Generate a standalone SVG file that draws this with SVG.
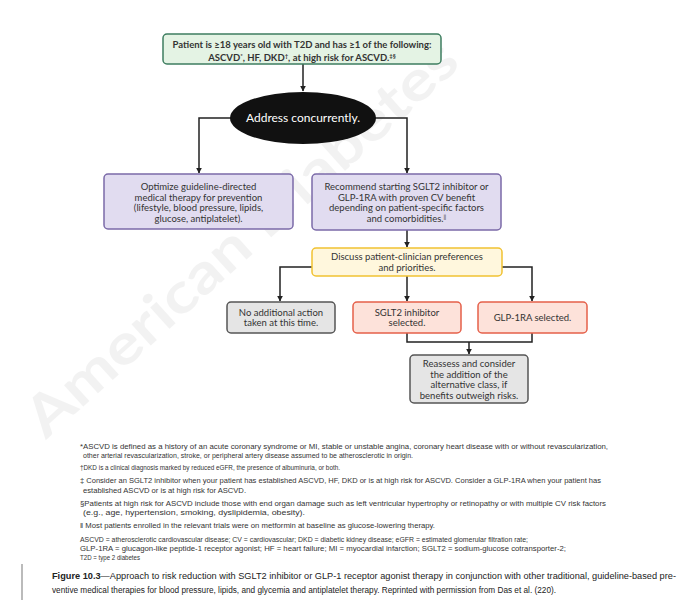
<svg xmlns="http://www.w3.org/2000/svg" width="686" height="612" viewBox="0 0 686 612">
<defs>
<marker id="arr" viewBox="0 0 10 10" refX="9" refY="5" markerWidth="4" markerHeight="4" orient="auto" markerUnits="strokeWidth">
<path d="M0,0 L10,5 L0,10 z" fill="#222"/>
</marker>
<style>
.bx{font-family:Lato,"Liberation Sans",sans-serif;font-size:9.5px;fill:#333;text-anchor:middle}
.top{font-family:Lato,"Liberation Sans",sans-serif;font-size:9.5px;font-weight:bold;fill:#333;text-anchor:middle}
.green{fill:#e4f3e4;stroke:#3e7e60;stroke-width:1.5}
.purple{fill:#e1dcf0;stroke:#7b6aa8;stroke-width:1.5}
.yellow{fill:#fff7dd;stroke:#f1c232;stroke-width:1.5}
.gray{fill:#e5e5e5;stroke:#555;stroke-width:1.5}
.red{fill:#fde2da;stroke:#e5604a;stroke-width:1.5}
.ln{fill:none;stroke:#222;stroke-width:1.5}
.fn{font-family:"Liberation Sans",Arial,sans-serif;font-size:6.5px;fill:#333}
.cap{font-family:"Liberation Sans",Arial,sans-serif;font-size:8.3px;fill:#222}
</style>
</defs>
<rect width="686" height="612" fill="#fff"/>

<g id="watermark" opacity="0.08">
<text x="46" y="440" transform="rotate(-42 46 440)" font-family="Lato,'Liberation Sans',sans-serif" font-size="56" font-weight="bold" fill="#666" textLength="560" lengthAdjust="spacingAndGlyphs">American Diabetes</text>
</g>

<g id="connectors">
<path class="ln" d="M303,64 V91" marker-end="url(#arr)"/>
<path class="ln" d="M231,118 H199 V173" marker-end="url(#arr)"/>
<path class="ln" d="M375,118 H407 V173" marker-end="url(#arr)"/>
<path class="ln" d="M407,230 V247" marker-end="url(#arr)"/>
<path class="ln" d="M312,267 H280 V301" marker-end="url(#arr)"/>
<path class="ln" d="M407,276 V301" marker-end="url(#arr)"/>
<path class="ln" d="M502,267 H532 V301" marker-end="url(#arr)"/>
<path class="ln" d="M407,333 V342 H532 V333"/>
<path class="ln" d="M469,342 V354" marker-end="url(#arr)"/>
</g>

<g id="start">
<rect class="green" x="163" y="34" width="278" height="30" rx="4"/>
<text class="top" x="302" y="48">Patient is ≥18 years old with T2D and has ≥1 of the following:</text>
<text class="top" x="302" y="60.5">ASCVD<tspan font-size="6" dy="-3">*</tspan><tspan dy="3">, HF, DKD</tspan><tspan font-size="6" dy="-3">†</tspan><tspan dy="3">, at high risk for ASCVD.</tspan><tspan font-size="6" dy="-3">‡§</tspan></text>
</g>

<g id="address">
<ellipse cx="303" cy="118" rx="73" ry="26" fill="#111"/>
<text x="303" y="122" font-family="Lato,'Liberation Sans',sans-serif" font-size="12" fill="#fff" text-anchor="middle">Address concurrently.</text>
</g>

<g id="optimize">
<rect class="purple" x="104" y="174" width="189" height="55" rx="4"/>
<text class="bx" x="198.5" y="190">Optimize guideline-directed</text>
<text class="bx" x="198.5" y="200.5">medical therapy for prevention</text>
<text class="bx" x="198.5" y="211">(lifestyle, blood pressure, lipids,</text>
<text class="bx" x="198.5" y="221.5">glucose, antiplatelet).</text>
</g>

<g id="recommend">
<rect class="purple" x="312" y="174" width="189" height="56" rx="4"/>
<text class="bx" x="406.5" y="190">Recommend starting SGLT2 inhibitor or</text>
<text class="bx" x="406.5" y="200.5">GLP-1RA with proven CV benefit</text>
<text class="bx" x="406.5" y="211">depending on patient-specific factors</text>
<text class="bx" x="406.5" y="221.5">and comorbidities.<tspan font-size="6" dy="-3">‖</tspan></text>
</g>

<g id="discuss">
<rect class="yellow" x="312" y="248" width="190" height="28" rx="4"/>
<text class="bx" x="407" y="260">Discuss patient-clinician preferences</text>
<text class="bx" x="407" y="271">and priorities.</text>
</g>

<g id="noaction">
<rect class="gray" x="227" y="302" width="108" height="31" rx="4"/>
<text class="bx" x="281" y="315.5">No additional action</text>
<text class="bx" x="281" y="326">taken at this time.</text>
</g>

<g id="sglt2">
<rect class="red" x="353" y="302" width="108" height="31" rx="4"/>
<text class="bx" x="407" y="315.5">SGLT2 inhibitor</text>
<text class="bx" x="407" y="326">selected.</text>
</g>

<g id="glp1">
<rect class="red" x="478" y="302" width="109" height="31" rx="4"/>
<text class="bx" x="532.5" y="321">GLP-1RA selected.</text>
</g>

<g id="reassess">
<rect class="gray" x="410" y="355" width="118" height="48" rx="4"/>
<text class="bx" x="469" y="367">Reassess and consider</text>
<text class="bx" x="469" y="377.5">the addition of the</text>
<text class="bx" x="469" y="388">alternative class, if</text>
<text class="bx" x="469" y="398.5">benefits outweigh risks.</text>
</g>

<g id="footnotes">
<text class="fn" x="80" y="448.5" textLength="528" lengthAdjust="spacingAndGlyphs">*ASCVD is defined as a history of an acute coronary syndrome or MI, stable or unstable angina, coronary heart disease with or without revascularization,</text>
<text class="fn" x="83" y="457.5" textLength="330" lengthAdjust="spacingAndGlyphs">other arterial revascularization, stroke, or peripheral artery disease assumed to be atherosclerotic in origin.</text>
<text class="fn" x="80" y="469.5" textLength="260" lengthAdjust="spacingAndGlyphs">†DKD is a clinical diagnosis marked by reduced eGFR,  the presence of albuminuria, or both.</text>
<text class="fn" x="80" y="483" textLength="521" lengthAdjust="spacingAndGlyphs">‡ Consider an SGLT2 inhibitor when your patient has established ASCVD, HF, DKD or is at high risk for ASCVD. Consider a GLP-1RA when your patient has</text>
<text class="fn" x="83" y="492.5" textLength="163" lengthAdjust="spacingAndGlyphs">established ASCVD or is at high risk for ASCVD.</text>
<text class="fn" x="80" y="505.5" textLength="526" lengthAdjust="spacingAndGlyphs">§Patients at high risk for ASCVD include those with end organ damage such as left ventricular hypertrophy or retinopathy or with multiple CV risk factors</text>
<text class="fn" x="83" y="514.5" textLength="222" lengthAdjust="spacingAndGlyphs">(e.g., age, hypertension, smoking, dyslipidemia, obesity).</text>
<text class="fn" x="80" y="527.5" textLength="355" lengthAdjust="spacingAndGlyphs">‖ Most patients enrolled in the relevant trials were on metformin at baseline as glucose-lowering therapy.</text>
<text class="fn" x="80" y="541.5" textLength="448" lengthAdjust="spacingAndGlyphs">ASCVD = atherosclerotic cardiovascular disease; CV = cardiovascular; DKD = diabetic kidney disease; eGFR = estimated glomerular filtration rate;</text>
<text class="fn" x="80" y="550.5" textLength="486" lengthAdjust="spacingAndGlyphs">GLP-1RA = glucagon-like peptide-1 receptor agonist; HF = heart failure; MI = myocardial infarction; SGLT2 = sodium-glucose cotransporter-2;</text>
<text class="fn" x="80" y="559.5" textLength="60" lengthAdjust="spacingAndGlyphs">T2D = type 2 diabetes</text>
</g>

<g id="caption">
<rect x="21" y="564" width="2" height="36" fill="#bbb"/>
<text class="cap" x="52" y="579" textLength="624" lengthAdjust="spacingAndGlyphs"><tspan font-weight="bold">Figure 10.3</tspan>—Approach to risk reduction with SGLT2 inhibitor or GLP-1 receptor agonist therapy in conjunction with other traditional, guideline-based pre-</text>
<text class="cap" x="52" y="593" textLength="504" lengthAdjust="spacingAndGlyphs">ventive medical therapies for blood pressure, lipids, and glycemia and antiplatelet therapy. Reprinted with permission from Das et al. (220).</text>
</g>
</svg>
